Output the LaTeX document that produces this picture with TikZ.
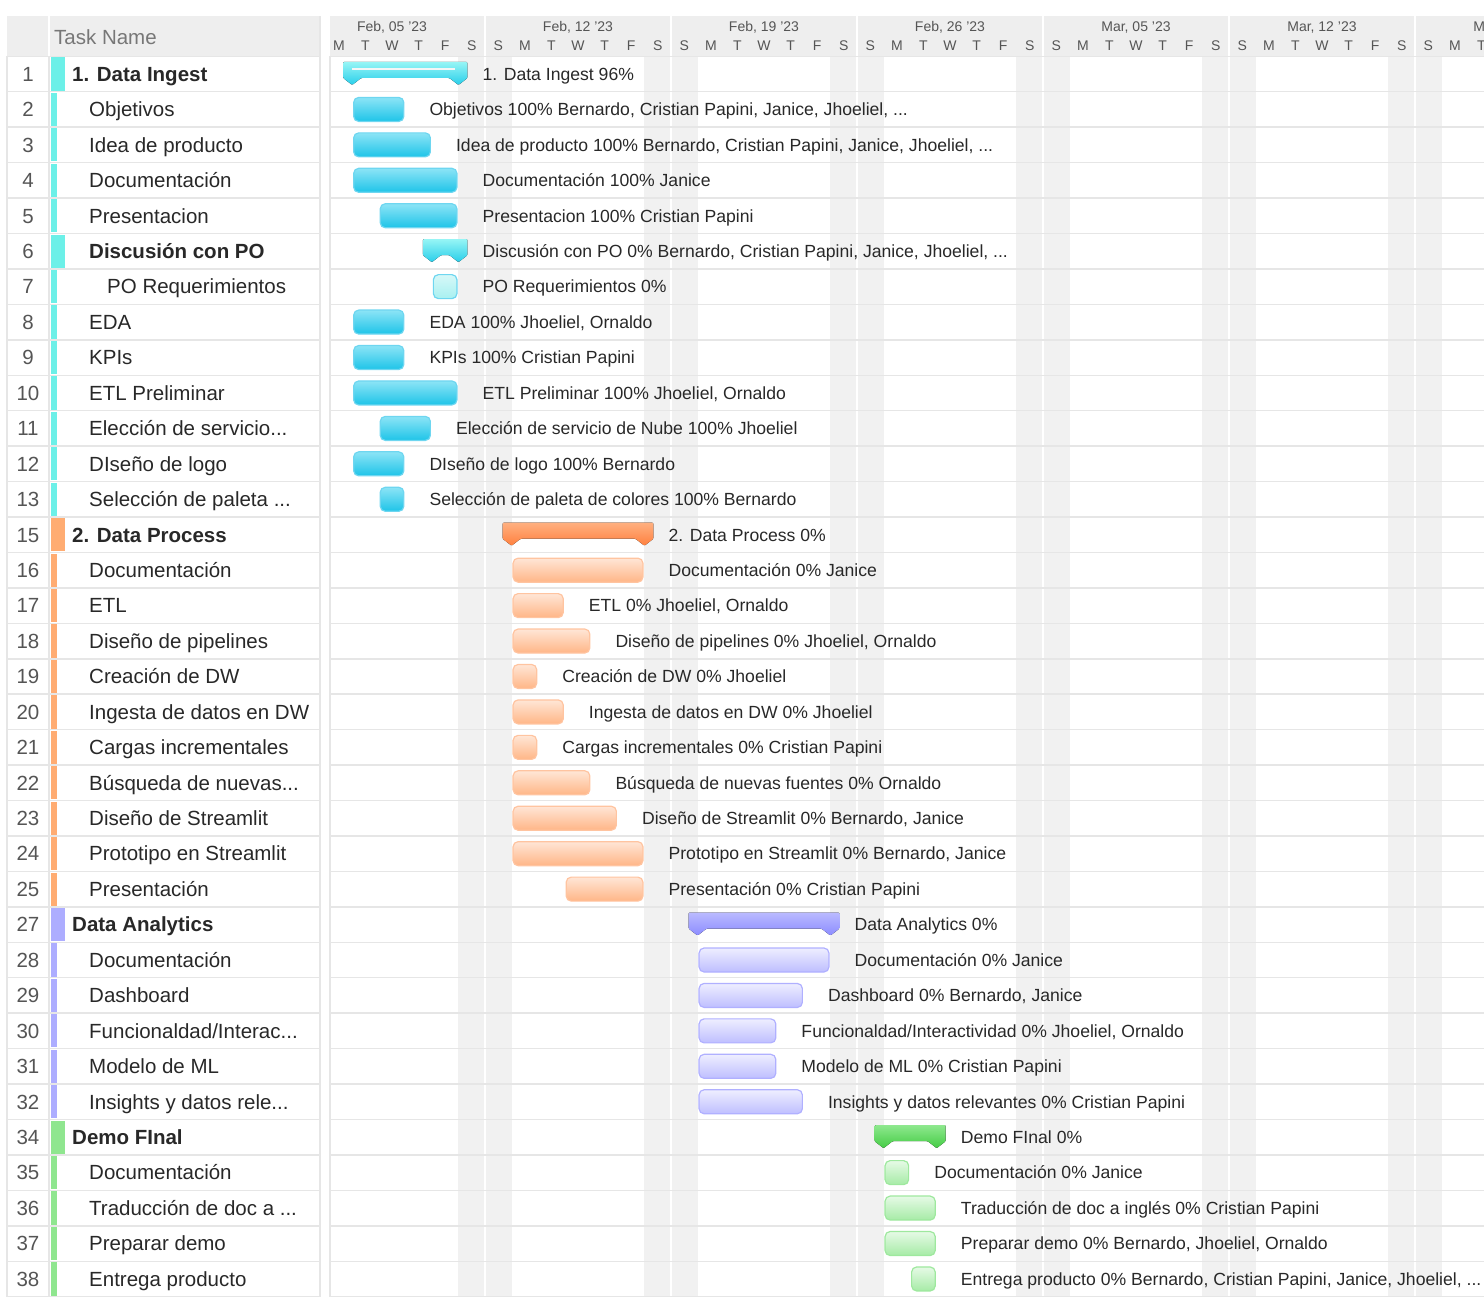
\documentclass[tikz,border=0pt]{standalone}
\usepackage{fontspec}
\setmainfont{Liberation Sans}
\usepackage{xcolor}
\usepackage{tikz}
\definecolor{headgray}{RGB}{238,238,238}
\definecolor{gridline}{RGB}{230,230,230}
\definecolor{weekend}{RGB}{241,241,241}
\definecolor{numgray}{RGB}{85,85,85}
\definecolor{textdark}{RGB}{40,40,40}
\definecolor{ingTop}{RGB}{140,228,246}
\definecolor{ingBot}{RGB}{30,196,232}
\definecolor{ingLine}{RGB}{110,214,240}
\definecolor{ingSumTop}{RGB}{150,245,245}
\definecolor{ingSumBot}{RGB}{40,206,234}
\definecolor{ingPaleTop}{RGB}{214,248,248}
\definecolor{ingPaleBot}{RGB}{168,240,240}
\definecolor{ingStrip}{RGB}{108,240,232}
\definecolor{procTop}{RGB}{255,230,214}
\definecolor{procBot}{RGB}{255,182,135}
\definecolor{procLine}{RGB}{255,196,160}
\definecolor{procSumTop}{RGB}{255,176,128}
\definecolor{procSumBot}{RGB}{255,128,62}
\definecolor{procStrip}{RGB}{255,172,114}
\definecolor{anaTop}{RGB}{238,238,255}
\definecolor{anaBot}{RGB}{190,190,255}
\definecolor{anaLine}{RGB}{176,176,255}
\definecolor{anaSumTop}{RGB}{186,186,255}
\definecolor{anaSumBot}{RGB}{140,140,255}
\definecolor{anaStrip}{RGB}{173,173,255}
\definecolor{demoTop}{RGB}{230,250,230}
\definecolor{demoBot}{RGB}{166,235,166}
\definecolor{demoLine}{RGB}{158,232,158}
\definecolor{demoSumTop}{RGB}{142,232,142}
\definecolor{demoSumBot}{RGB}{68,204,68}
\definecolor{demoStrip}{RGB}{143,230,143}

\begin{document}
\begin{tikzpicture}[x=1pt,y=-1pt,
  namefont/.style={font=\fontsize{20.5}{24}\selectfont},
  taskname/.style={namefont,anchor=base west,inner sep=0,text=textdark},
  rownum/.style={namefont,anchor=base,inner sep=0,text=numgray},
  barlabel/.style={font=\fontsize{17.6}{20}\selectfont,anchor=base west,inner sep=0,text=textdark},
  headtext/.style={font=\fontsize{14}{16}\selectfont,anchor=base,inner sep=0,text=numgray},
  gridrule/.style={gridline,line width=1.5pt}]
  \useasboundingbox (0,0) rectangle (1484,1308);
  % table header
  \fill[headgray] (7,16) rectangle (48,56);
  \fill[headgray] (50,16) rectangle (320,56);
  \node[taskname,text=numgray!80] (taskhead) at (54,44.3) {Task Name};
  % chart background and header
  \begin{scope}
    \clip (330,0) rectangle (1484,1308);
    \fill[headgray] (330,16) rectangle (1484,56);
    \foreach \w in {0,...,5}{
      \pgfmathsetmacro\xa{325.6+26.57*(5+7*\w)}
      \fill[weekend] (\xa,56) rectangle (\xa+53.14,1297);
      \draw[white,line width=2pt] (\xa+26.57,16) -- (\xa+26.57,1297);
    }
    \foreach \w/\wk in {0/{Feb, 05 '23},1/{Feb, 12 '23},2/{Feb, 19 '23},3/{Feb, 26 '23},4/{Mar, 05 '23},5/{Mar, 12 '23},6/{Mar, 19 '23}}{
      \pgfmathsetmacro\xw{325.6+26.57*(2.5+7*\w)}
      \node[headtext] (week\w) at (\xw,32) {\wk};
    }
    \foreach \d [evaluate=\d as \dm using {int(mod(\d,7))}] in {0,...,43}{
      \ifcase\dm \def\dl{M}\or \def\dl{T}\or \def\dl{W}\or \def\dl{T}\or \def\dl{F}\or \def\dl{S}\or \def\dl{S}\fi
      \node[headtext] (day\d) at (325.6+26.57*\d+13.3,51) {\dl};
    }
    \foreach \r in {0,...,35}{
      \draw[gridrule] (330,56.3+35.44*\r) -- (1484,56.3+35.44*\r);
    }
  \end{scope}
  % table grid
  \foreach \r in {0,...,35}{
    \draw[gridrule] (7,56.3+35.44*\r) -- (320,56.3+35.44*\r);
  }
  \draw[gridrule] (7,56) -- (7,1297);
  \draw[gridrule] (49,56) -- (49,1297);
  \draw[gridrule] (320,16) -- (320,1297);
  \draw[gridrule] (330,56) -- (330,1297);
  % rows: index/number/kind/indent/group/start/end/name/label
  \foreach \r/\nr/\kind/\ind/\grp/\s/\e/\tname/\tlbl in {
    0/1/0/72/ing/1/5/{1. Data Ingest}/{1. Data Ingest 96\%},
    1/2/1/89/ing/1/3/{Objetivos}/{Objetivos 100\% Bernardo, Cristian Papini, Janice, Jhoeliel, ...},
    2/3/1/89/ing/1/4/{Idea de producto}/{Idea de producto 100\% Bernardo, Cristian Papini, Janice, Jhoeliel, ...},
    3/4/1/89/ing/1/5/{Documentación}/{Documentación 100\% Janice},
    4/5/1/89/ing/2/5/{Presentacion}/{Presentacion 100\% Cristian Papini},
    5/6/0/89/ing/4/5/{Discusión con PO}/{Discusión con PO 0\% Bernardo, Cristian Papini, Janice, Jhoeliel, ...},
    6/7/2/107/ing/4/5/{PO Requerimientos}/{PO Requerimientos 0\%},
    7/8/1/89/ing/1/3/{EDA}/{EDA 100\% Jhoeliel, Ornaldo},
    8/9/1/89/ing/1/3/{KPIs}/{KPIs 100\% Cristian Papini},
    9/10/1/89/ing/1/5/{ETL Preliminar}/{ETL Preliminar 100\% Jhoeliel, Ornaldo},
    10/11/1/89/ing/2/4/{Elección de servicio...}/{Elección de servicio de Nube 100\% Jhoeliel},
    11/12/1/89/ing/1/3/{DIseño de logo}/{DIseño de logo 100\% Bernardo},
    12/13/1/89/ing/2/3/{Selección de paleta ...}/{Selección de paleta de colores 100\% Bernardo},
    13/15/0/72/proc/7/12/{2. Data Process}/{2. Data Process 0\%},
    14/16/1/89/proc/7/12/{Documentación}/{Documentación 0\% Janice},
    15/17/1/89/proc/7/9/{ETL}/{ETL 0\% Jhoeliel, Ornaldo},
    16/18/1/89/proc/7/10/{Diseño de pipelines}/{Diseño de pipelines 0\% Jhoeliel, Ornaldo},
    17/19/1/89/proc/7/8/{Creación de DW}/{Creación de DW 0\% Jhoeliel},
    18/20/1/89/proc/7/9/{Ingesta de datos en DW}/{Ingesta de datos en DW 0\% Jhoeliel},
    19/21/1/89/proc/7/8/{Cargas incrementales}/{Cargas incrementales 0\% Cristian Papini},
    20/22/1/89/proc/7/10/{Búsqueda de nuevas...}/{Búsqueda de nuevas fuentes 0\% Ornaldo},
    21/23/1/89/proc/7/11/{Diseño de Streamlit}/{Diseño de Streamlit 0\% Bernardo, Janice},
    22/24/1/89/proc/7/12/{Prototipo en Streamlit}/{Prototipo en Streamlit 0\% Bernardo, Janice},
    23/25/1/89/proc/9/12/{Presentación}/{Presentación 0\% Cristian Papini},
    24/27/0/72/ana/14/19/{Data Analytics}/{Data Analytics 0\%},
    25/28/1/89/ana/14/19/{Documentación}/{Documentación 0\% Janice},
    26/29/1/89/ana/14/18/{Dashboard}/{Dashboard 0\% Bernardo, Janice},
    27/30/1/89/ana/14/17/{Funcionaldad/Interac...}/{Funcionaldad/Interactividad 0\% Jhoeliel, Ornaldo},
    28/31/1/89/ana/14/17/{Modelo de ML}/{Modelo de ML 0\% Cristian Papini},
    29/32/1/89/ana/14/18/{Insights y datos rele...}/{Insights y datos relevantes 0\% Cristian Papini},
    30/34/0/72/demo/21/23/{Demo FInal}/{Demo FInal 0\%},
    31/35/1/89/demo/21/22/{Documentación}/{Documentación 0\% Janice},
    32/36/1/89/demo/21/23/{Traducción de doc a ...}/{Traducción de doc a inglés 0\% Cristian Papini},
    33/37/1/89/demo/21/23/{Preparar demo}/{Preparar demo 0\% Bernardo, Jhoeliel, Ornaldo},
    34/38/1/89/demo/22/23/{Entrega producto}/{Entrega producto 0\% Bernardo, Cristian Papini, Janice, Jhoeliel, ...}}{
    \pgfmathsetmacro\yc{74+35.44*\r}
    \pgfmathsetmacro\xs{325.6+26.57*\s}
    \pgfmathsetmacro\xe{325.6+26.57*\e}
    \node[rownum] (nr\r) at (28,\yc+7.3) {\nr};
    \ifnum\kind=0
      \fill[\grp Strip] (50.5,\yc-16.6) rectangle (65,\yc+16.6);
      \node[taskname,font=\fontsize{20.5}{24}\selectfont\bfseries] (tn\r) at (\ind,\yc+7.3) {\tname};
      \fill[top color=\grp SumTop,bottom color=\grp SumBot,rounded corners=1pt]
        (\xs-9,\yc-12) -- (\xe+9,\yc-12) -- (\xe+9,\yc+4) -- (\xe,\yc+11) -- (\xe-9,\yc+4)
        -- (\xs+9,\yc+4) -- (\xs,\yc+11) -- (\xs-9,\yc+4) -- cycle;
    \else
      \fill[\grp Strip] (50.5,\yc-16.6) rectangle (57,\yc+16.6);
      \node[taskname] (tn\r) at (\ind,\yc+7.3) {\tname};
      \ifnum\kind=1
        \draw[line width=1.2pt,rounded corners=5pt,draw=\grp Line,top color=\grp Top,bottom color=\grp Bot]
          (\xs+1.5,\yc-12) rectangle (\xe-1.5,\yc+12);
      \else
        \draw[line width=1.2pt,rounded corners=5pt,draw=\grp Line,top color=\grp PaleTop,bottom color=\grp PaleBot]
          (\xs+1.5,\yc-12) rectangle (\xe-1.5,\yc+12);
      \fi
    \fi
    \ifnum\r=0
      \draw[white!92!gray,line width=2.5pt] (\xs,\yc-5) -- (\xe-3,\yc-5);
    \fi
    \node[barlabel] (lb\r) at (\xe+24,\yc+6.3) {\tlbl};
  }
\end{tikzpicture}
\end{document}
